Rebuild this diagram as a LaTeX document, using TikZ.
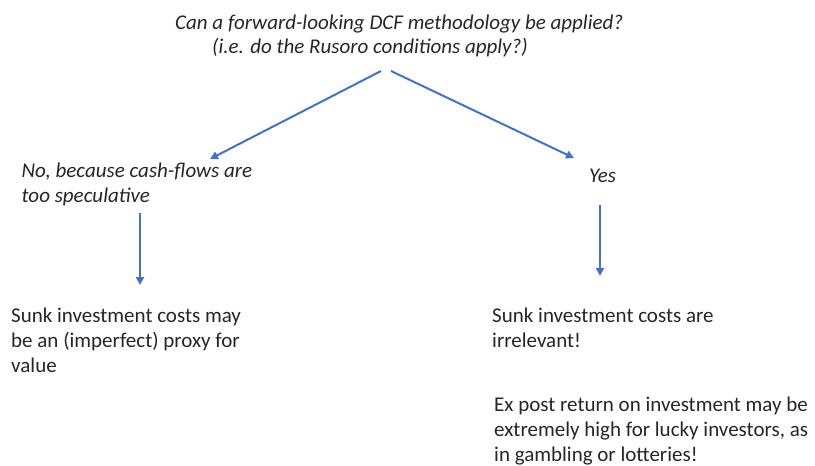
\documentclass[tikz,border=0pt]{standalone}
\usepackage{fontspec}
\setmainfont{Carlito}
\usetikzlibrary{arrows.meta}
\definecolor{arrblue}{HTML}{4472C4}
\definecolor{txt}{HTML}{262626}
\begin{document}
\begin{tikzpicture}[x=1pt,y=-1pt,
  lbl/.style={anchor=base west, inner sep=0pt, align=left, font=\fontsize{21}{25}\selectfont, text=txt},
  itlbl/.style={anchor=base west, inner sep=0pt, align=left, font=\fontsize{21}{24.5}\selectfont\itshape, text=txt},
  arr/.style={draw=arrblue, line width=2pt, -{Triangle[length=8pt,width=8pt]}}]
\useasboundingbox[fill=white] (0,0) rectangle (815,466);
% base anchor = baseline of the last line
\node[itlbl] (title) at (175,53.5) {Can a forward-looking DCF methodology be applied?\\\hspace{37pt}(i.e. do the Rusoro conditions apply?)};
\node[itlbl] (no) at (21.5,202) {No, because cash-flows are\\too speculative};
\node[itlbl] (yes) at (589,182) {Yes};
\node[lbl] (sunkL) at (11,372) {Sunk investment costs may\\be an (imperfect) proxy for\\value};
\node[lbl] (sunkR) at (492,347) {Sunk investment costs are\\irrelevant!};
\node[lbl] (expost) at (494,461) {Ex post return on investment may be\\extremely high for lucky investors, as\\in gambling or lotteries!};
\coordinate (tL) at (381,71);
\coordinate (tR) at (391,71);
\coordinate (noIn) at (210,159);
\coordinate (yesIn) at (574,158);
\coordinate (noOut) at (140,213);
\coordinate (sunkLIn) at (140,285);
\coordinate (yesOut) at (600,205);
\coordinate (sunkRIn) at (600,276);
\draw[arr] (tL) -- (noIn);
\draw[arr] (tR) -- (yesIn);
\draw[arr] (noOut) -- (sunkLIn);
\draw[arr] (yesOut) -- (sunkRIn);
\end{tikzpicture}
\end{document}
